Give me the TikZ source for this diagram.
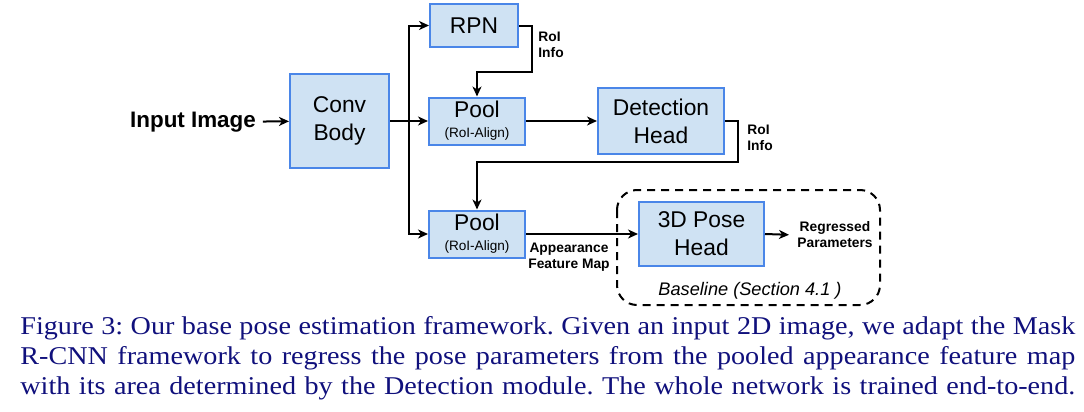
\documentclass[tikz,border=0pt]{standalone}
\usepackage{fontspec}
\setmainfont{Liberation Sans}
\newfontfamily\capfont{Liberation Serif}
\usetikzlibrary{arrows.meta}
\definecolor{boxfill}{HTML}{CFE2F3}
\definecolor{boxline}{HTML}{4A86E8}
\definecolor{capnavy}{HTML}{10107C}
\tikzset{
  block/.style={draw=boxline, fill=boxfill, line width=1pt, align=center,
    inner sep=0pt, font=\fontsize{11.4}{14}\selectfont},
  tag/.style={font=\bfseries\fontsize{6.9}{8}\selectfont, inner sep=1pt},
  flow/.style={-{Stealth[length=5pt,width=4.5pt,inset=1.5pt]}, line width=1pt},
  capline/.style={font=\capfont\fontsize{12.8}{15}\selectfont\frenchspacing, text=capnavy,
    inner sep=0pt, anchor=base west},
}
\newcommand{\roialign}{\\[-4pt]{\fontsize{6.8}{7}\selectfont (RoI-Align)}}
\newcommand{\capjust}[1]{\scalebox{1.1}[1]{\hbox to 479.5pt{#1}}}
\begin{document}
\begin{tikzpicture}[x=0.5pt,y=-0.5pt]
    \useasboundingbox (0,0) rectangle (1084,412);

    % Blocks
    \node[block, minimum width=49.5pt, minimum height=47pt] (conv) at (339.5,121) {Conv\\Body};
    \node[block, minimum width=44pt, minimum height=21.5pt] (rpn) at (474,25.5) {RPN};
    \node[block, minimum width=48pt, minimum height=23.5pt] (pool1) at (477,121) {Pool\roialign};
    \node[block, minimum width=63pt, minimum height=33pt] (det) at (661,121) {Detection\\Head};
    \node[block, minimum width=48pt, minimum height=23.5pt] (pool2) at (477,234) {Pool\roialign};
    \node[block, minimum width=62.5pt, minimum height=32pt] (pose) at (701.5,234) {3D Pose\\Head};

    % Labels
    \node[font=\bfseries\fontsize{11.2}{13}\selectfont] (input) at (193,122) {Input Image};
    \node[tag, align=left, anchor=west] (roiA) at (536,45) {RoI\\Info};
    \node[tag, align=left, anchor=west] (roiB) at (745,138) {RoI\\Info};
    \node[tag, align=center] (appmap) at (569,257) {Appearance\\Feature Map};
    \node[tag, align=center] (regp) at (835,235) {Regressed\\Parameters};
    \node[font=\itshape\fontsize{9.1}{11}\selectfont] (base) at (750,291) {Baseline (Section 4.1 )};

    % Baseline frame
    \draw[line width=1pt, dash pattern=on 4pt off 3pt, rounded corners=10pt]
        (617,190) rectangle (880,305);

    % Connectors
    \coordinate (split) at (409,121);
    \coordinate (rpnbend) at (532,72);
    \coordinate (detbend) at (738,162);
    \draw[flow] (input) -- (conv);
    \draw[flow] (conv.east) -- (pool1.west);
    \draw[flow] (split) |- (rpn.west);
    \draw[flow] (split) |- (pool2.west);
    \draw[flow] (rpn.east) -| (rpnbend) -| (pool1.north);
    \draw[flow] (pool1.east) -- (det.west);
    \draw[flow] (det.east) -| (detbend) -| (pool2.north);
    \draw[flow] (pool2.east) -- (pose.west);
    \draw[flow, shorten >=3pt] (pose.east) -- (regp.west);

    % Caption
    \node[capline] (capA) at (20,334) {\capjust{Figure 3: Our base pose estimation framework. Given an input 2D image, we adapt the Mask}};
    \node[capline] (capB) at (20,364) {\capjust{R-CNN framework to regress the pose parameters from the pooled appearance feature map}};
    \node[capline] (capC) at (20,394) {\capjust{with its area determined by the Detection module. The whole network is trained end-to-end.}};
\end{tikzpicture}
\end{document}
